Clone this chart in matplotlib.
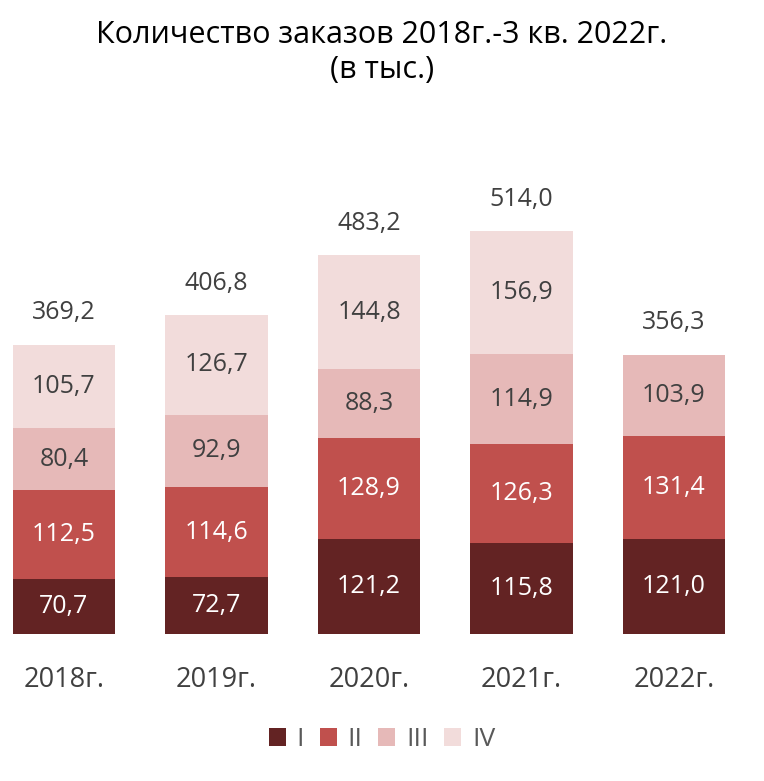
import matplotlib
matplotlib.use("Agg")
import matplotlib.pyplot as plt
from matplotlib.patches import Patch

plt.rcParams['font.family'] = ['Open Sans', 'DejaVu Sans']

years = ["2018г.", "2019г.", "2020г.", "2021г.", "2022г."]
q1 = [70.7, 72.7, 121.2, 115.8, 121.0]
q2 = [112.5, 114.6, 128.9, 126.3, 131.4]
q3 = [80.4, 92.9, 88.3, 114.9, 103.9]
q4 = [105.7, 126.7, 144.8, 156.9, None]
totals = [369.2, 406.8, 483.2, 514.0, 356.3]
series_names = ["I", "II", "III", "IV"]
colors = ["#632323", "#C0504D", "#E6B9B8", "#F2DCDB"]
text_colors = ["white", "white", "#404040", "#404040"]

def fmt(v):
    return f"{v:.1f}".replace(".", ",")

fig = plt.figure(figsize=(7.64, 7.81), dpi=100)
ax = fig.add_axes([0, 1 - 634 / 781, 1, 470 / 781])
ax.set_xlim(-64 / 152.5, (764 - 64) / 152.5)
ax.set_ylim(0, 600)
ax.axis("off")

x = list(range(len(years)))
width = 0.67
bottoms = [0.0] * len(years)
for s, vals in enumerate([q1, q2, q3, q4]):
    for i, v in enumerate(vals):
        if v is None:
            continue
        ax.bar(i, v, width=width, bottom=bottoms[i], color=colors[s], edgecolor="none")
        ax.text(i, bottoms[i] + v / 2, fmt(v), ha="center", va="center",
                fontsize=18, color=text_colors[s])
        bottoms[i] += v

for i, t in enumerate(totals):
    ax.annotate(fmt(t), (i, bottoms[i]), xytext=(0, 23), textcoords="offset points",
                ha="center", va="center", fontsize=18, color="#404040")
    ax.annotate(years[i], (i, 0), xytext=(0, -33), textcoords="offset points",
                ha="center", va="center", fontsize=19.5, color="#404040")

fig.text(0.5, 1 - 35 / 781, "Количество заказов 2018г.-3 кв. 2022г.", ha="center",
         va="center", fontsize=22, color="black")
fig.text(0.5, 1 - 70 / 781, "(в тыс.)", ha="center", va="center", fontsize=22, color="black")

handles = [Patch(facecolor=c, edgecolor="none") for c in colors]
leg = fig.legend(handles, series_names, loc="center", bbox_to_anchor=(0.5, 1 - 740 / 781),
                 ncol=4, frameon=False, fontsize=19, handlelength=0.65, handleheight=0.65,
                 handletextpad=0.4, columnspacing=0.6)
for t in leg.get_texts():
    t.set_color("#595959")

fig.savefig("out.png", dpi=100)
